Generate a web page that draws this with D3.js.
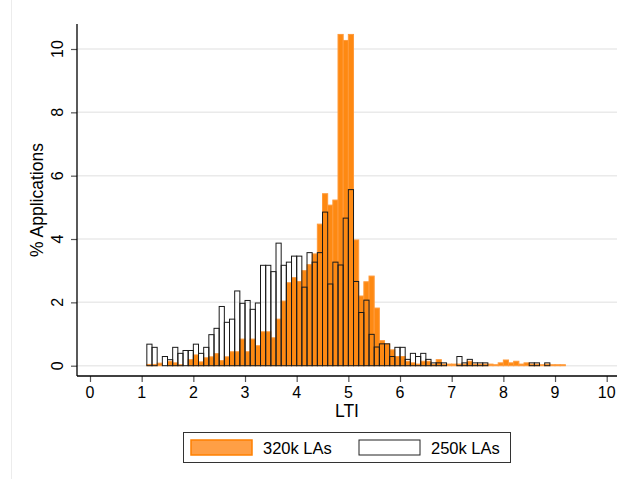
<!DOCTYPE html>
<html>
<head>
<meta charset="utf-8">
<script src="https://cdn.jsdelivr.net/npm/d3@7"></script>
<style>
  body { margin: 0; background: #fff; }
  text { font-family: "Liberation Sans", Arial, sans-serif; fill: #000; }
</style>
</head>
<body>
<svg width="622" height="479"></svg>
<script>
// lower edge of each 0.1-wide LTI bin
var binLow = [1.1, 1.2, 1.3, 1.4, 1.5, 1.6, 1.7, 1.8, 1.9,
  2.0, 2.1, 2.2, 2.3, 2.4, 2.5, 2.6, 2.7, 2.8, 2.9,
  3.0, 3.1, 3.2, 3.3, 3.4, 3.5, 3.6, 3.7, 3.8, 3.9,
  4.0, 4.1, 4.2, 4.3, 4.4, 4.5, 4.6, 4.7, 4.8, 4.9,
  5.0, 5.1, 5.2, 5.3, 5.4, 5.5, 5.6, 5.7, 5.8, 5.9,
  6.0, 6.1, 6.2, 6.3, 6.4, 6.5, 6.6, 6.7, 6.8, 6.9,
  7.0, 7.1, 7.2, 7.3, 7.4, 7.5, 7.6, 7.7, 7.8, 7.9,
  8.0, 8.1, 8.2, 8.3, 8.4, 8.5, 8.6, 8.7, 8.8, 8.9,
  9.0, 9.1];

// % applications, 320k LAs (orange)
var pct320 = [0.04, 0.04, 0.08, 0, 0.14, 0.09, 0.03, 0, 0.19,
  0.34, 0.12, 0.25, 0.28, 0.38, 0.16, 0.28, 0.44, 0.44, 0.84,
  0.44, 0.84, 0.63, 1.07, 1.07, 0.88, 1.47, 2.04, 2.62, 2.78,
  2.66, 3.0, 3.19, 3.53, 4.47, 5.43, 5.07, 5.23, 10.46, 10.27,
  10.46, 3.97, 2.2, 2.65, 2.83, 1.82, 0.79, 0.69, 0.5, 0.29,
  0.29, 0.14, 0.09, 0.05, 0.14, 0.14, 0.05, 0.19, 0.05, 0.05,
  0.05, 0.05, 0.05, 0.14, 0.05, 0.05, 0.05, 0.05, 0.03, 0.09,
  0.18, 0.09, 0.14, 0.05, 0.09, 0.05, 0.05, 0.03, 0.05, 0.03,
  0.03, 0.03];

// % applications, 250k LAs (outline)
var pct250 = [0.68, 0.58, 0, 0.29, 0.19, 0.58, 0.39, 0.48, 0.48,
  0.68, 0.39, 0.58, 0.98, 1.18, 1.87, 1.37, 1.47, 2.36, 1.97,
  2.06, 1.78, 1.98, 3.17, 3.17, 2.97, 3.87, 3.17, 3.27, 3.46,
  3.46, 2.48, 3.57, 3.27, 3.57, 4.85, 2.58, 3.27, 3.18, 4.66,
  5.56, 2.66, 1.68, 2.07, 0.99, 0.59, 0.69, 0.69, 0.29, 0.58,
  0.58, 0.2, 0.39, 0.29, 0.39, 0.2, 0.09, 0.09, 0.09, 0,
  0, 0.29, 0.09, 0.2, 0.09, 0.09, 0.09, 0, 0, 0,
  0, 0, 0, 0, 0, 0.09, 0.09, 0, 0.09, 0,
  0, 0];

var xTicks = [0, 1, 2, 3, 4, 5, 6, 7, 8, 9, 10];
var yTicks = [0, 2, 4, 6, 8, 10];
var seriesNames = ["320k LAs", "250k LAs"];
var binWidth = 0.1;

var svg = d3.select("svg");

var x = d3.scaleLinear().domain([0, 10]).range([90, 606.7]);
var y = d3.scaleLinear().domain([0, 10]).range([365.7, 49]);

var plotLeft = 77, plotRight = 617, plotTop = 24, plotBottom = 376;

// faint outer graph-region edge
svg.append("line")
  .attr("x1", 11.5).attr("x2", 11.5).attr("y1", 0).attr("y2", 479)
  .attr("stroke", "#ececec").attr("stroke-width", 1);

// gridlines
svg.append("g").selectAll("line")
  .data(yTicks)
  .enter().append("line")
  .attr("x1", plotLeft).attr("x2", plotRight)
  .attr("y1", function(d) { return y(d); })
  .attr("y2", function(d) { return y(d); })
  .attr("stroke", "#eaeaea")
  .attr("stroke-width", 1.5);

var bins320 = binLow.map(function(b, i) { return [b, pct320[i]]; })
  .filter(function(d) { return d[1] > 0; });
var bins250 = binLow.map(function(b, i) { return [b, pct250[i]]; })
  .filter(function(d) { return d[1] > 0; });

svg.append("g").selectAll("rect")
  .data(bins320)
  .enter().append("rect")
  .attr("x", function(d) { return x(d[0]); })
  .attr("width", function(d) { return x(d[0] + binWidth) - x(d[0]); })
  .attr("y", function(d) { return y(d[1]); })
  .attr("height", function(d) { return y(0) - y(d[1]); })
  .attr("fill", "#fe8912")
  .attr("stroke", "#ff9a3a")
  .attr("stroke-width", 1);

svg.append("g").selectAll("rect")
  .data(bins250)
  .enter().append("rect")
  .attr("x", function(d) { return x(d[0]); })
  .attr("width", function(d) { return x(d[0] + binWidth) - x(d[0]); })
  .attr("y", function(d) { return y(d[1]); })
  .attr("height", function(d) { return y(0) - y(d[1]); })
  .attr("fill", "none")
  .attr("stroke", "#1a1a1a")
  .attr("stroke-width", 1);

// y axis
var yAxis = svg.append("g")
  .attr("transform", "translate(" + plotLeft + ",0)")
  .call(d3.axisLeft(y).tickValues(yTicks).tickSize(6).tickFormat(""));
yAxis.select(".domain").remove();
yAxis.selectAll(".tick line").attr("stroke", "#555").attr("stroke-width", 1.2);
svg.append("line")
  .attr("x1", plotLeft).attr("x2", plotLeft)
  .attr("y1", plotTop).attr("y2", plotBottom)
  .attr("stroke", "#000").attr("stroke-width", 1.3);
svg.append("g").selectAll("text")
  .data(yTicks)
  .enter().append("text")
  .attr("transform", function(d) { return "translate(63," + y(d) + ") rotate(-90)"; })
  .attr("text-anchor", "middle")
  .style("font-size", "16px")
  .text(function(d) { return d; });

// x axis
var xAxis = svg.append("g")
  .attr("transform", "translate(0," + plotBottom + ")")
  .call(d3.axisBottom(x).tickValues(xTicks).tickSize(6).tickFormat(""));
xAxis.select(".domain").remove();
xAxis.selectAll(".tick line").attr("stroke", "#555").attr("stroke-width", 1.2);
svg.append("line")
  .attr("x1", plotLeft).attr("x2", plotRight)
  .attr("y1", plotBottom).attr("y2", plotBottom)
  .attr("stroke", "#000").attr("stroke-width", 1.3);
svg.append("g").selectAll("text")
  .data(xTicks)
  .enter().append("text")
  .attr("x", function(d) { return x(d); })
  .attr("y", 398)
  .attr("text-anchor", "middle")
  .style("font-size", "16px")
  .text(function(d) { return d; });

// axis titles
svg.append("text")
  .attr("x", 347).attr("y", 417)
  .attr("text-anchor", "middle")
  .style("font-size", "17.5px")
  .text("LTI");
svg.append("text")
  .attr("transform", "translate(43,200) rotate(-90)")
  .attr("text-anchor", "middle")
  .style("font-size", "17.5px")
  .text("% Applications");

// legend
var legend = svg.append("g");
legend.append("rect")
  .attr("x", 183.5).attr("y", 432.5).attr("width", 327).attr("height", 30)
  .attr("fill", "#fff").attr("stroke", "#333").attr("stroke-width", 1);
legend.append("rect")
  .attr("x", 191).attr("y", 440).attr("width", 61).attr("height", 15)
  .attr("fill", "#ff9f45").attr("stroke", "#ff8000").attr("stroke-width", 1.5);
legend.append("text")
  .attr("x", 263).attr("y", 453.5)
  .style("font-size", "16.5px")
  .text(seriesNames[0]);
legend.append("rect")
  .attr("x", 359).attr("y", 440).attr("width", 61).attr("height", 15)
  .attr("fill", "#fff").attr("stroke", "#222").attr("stroke-width", 1);
legend.append("text")
  .attr("x", 431).attr("y", 453.5)
  .style("font-size", "16.5px")
  .text(seriesNames[1]);
</script>
</body>
</html>
